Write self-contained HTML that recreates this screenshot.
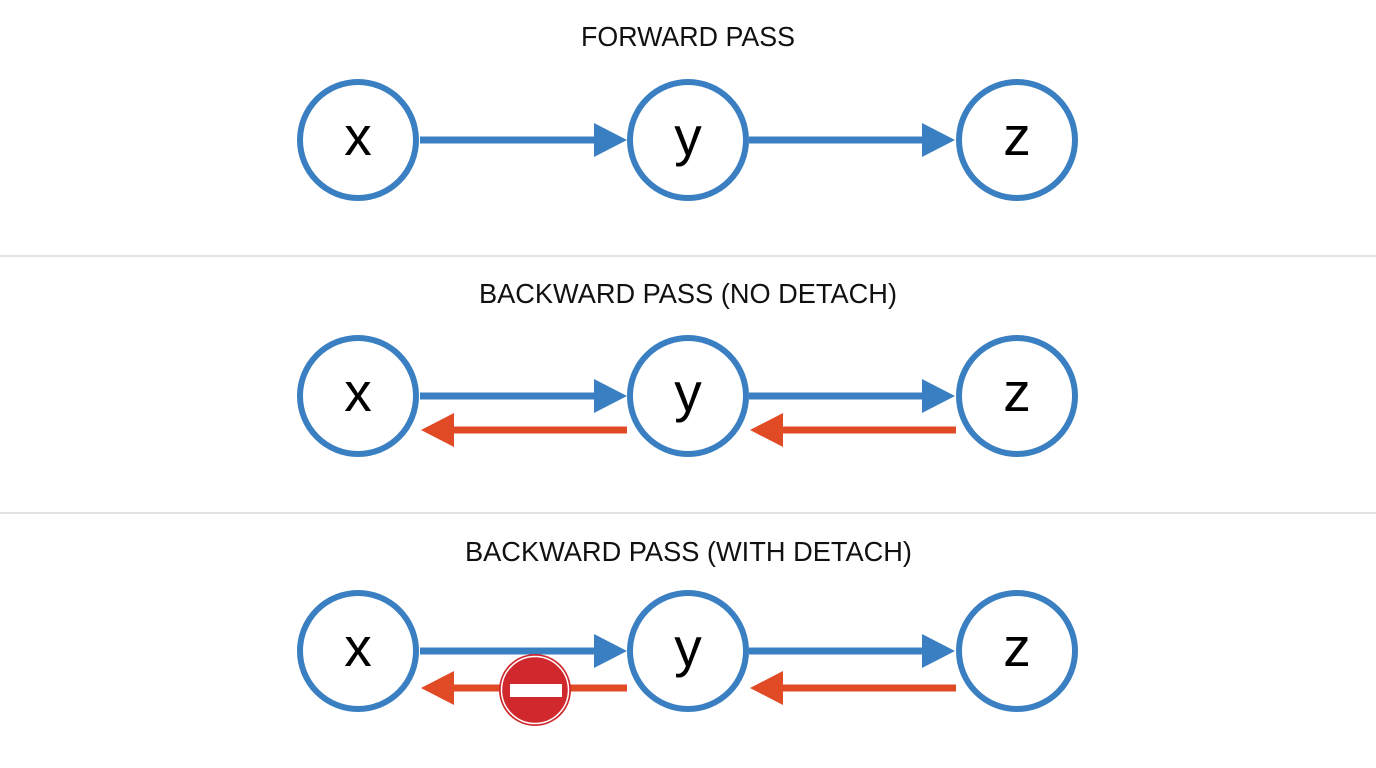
<!DOCTYPE html>
<html><head><meta charset="utf-8"><style>html,body{margin:0;padding:0;background:#fff}svg{display:block}</style></head>
<body>
<svg width="1376" height="768" viewBox="0 0 1376 768" xmlns="http://www.w3.org/2000/svg" font-family="Liberation Sans, Arial, sans-serif">
<rect width="1376" height="768" fill="#fff"/>
<line x1="0" y1="256" x2="1376" y2="256" stroke="#d9d9d9" stroke-width="1.5"/>
<line x1="0" y1="513" x2="1376" y2="513" stroke="#d9d9d9" stroke-width="1.5"/>
<text x="581" y="46" font-size="28" fill="#111" textLength="214" lengthAdjust="spacingAndGlyphs">FORWARD PASS</text>
<text x="479" y="303" font-size="28" fill="#111" textLength="418" lengthAdjust="spacingAndGlyphs">BACKWARD PASS (NO DETACH)</text>
<text x="465" y="561" font-size="28" fill="#111" textLength="447" lengthAdjust="spacingAndGlyphs">BACKWARD PASS (WITH DETACH)</text>
<defs>
<g id="row">
<circle cx="358" cy="0" r="58" fill="#fff" stroke="#3a7fc1" stroke-width="6"/>
<circle cx="688" cy="0" r="58" fill="#fff" stroke="#3a7fc1" stroke-width="6"/>
<circle cx="1017" cy="0" r="58" fill="#fff" stroke="#3a7fc1" stroke-width="6"/>
<line x1="420" y1="0" x2="598" y2="0" stroke="#3a7fc1" stroke-width="7"/>
<polygon points="594,-17 627,0 594,17" fill="#3a7fc1"/>
<line x1="749" y1="0" x2="926" y2="0" stroke="#3a7fc1" stroke-width="7"/>
<polygon points="922,-17 955,0 922,17" fill="#3a7fc1"/>
</g>
<g id="back">
<line x1="627" y1="0" x2="450" y2="0" stroke="#e04a25" stroke-width="7"/>
<polygon points="454,-17 421,0 454,17" fill="#e04a25"/>
<line x1="956" y1="0" x2="779" y2="0" stroke="#e04a25" stroke-width="7"/>
<polygon points="783,-17 750,0 783,17" fill="#e04a25"/>
</g>
</defs>
<use href="#row" y="140"/>
<use href="#row" y="396"/>
<use href="#back" y="430"/>
<use href="#row" y="651"/>
<use href="#back" y="688"/>
<g font-size="55" fill="#000" text-anchor="middle">
<text x="358" y="155">x</text><text x="688" y="155">y</text><text x="1017" y="155">z</text>
<text x="358" y="411">x</text><text x="688" y="411">y</text><text x="1017" y="411">z</text>
<text x="358" y="666">x</text><text x="688" y="666">y</text><text x="1017" y="666">z</text>
</g>
<circle cx="535" cy="690" r="36" fill="#d0282c"/>
<circle cx="535" cy="690" r="33.5" fill="none" stroke="#fff" stroke-width="1.5"/>
<rect x="510" y="684" width="52" height="13" fill="#fff"/>
</svg>
</body></html>
